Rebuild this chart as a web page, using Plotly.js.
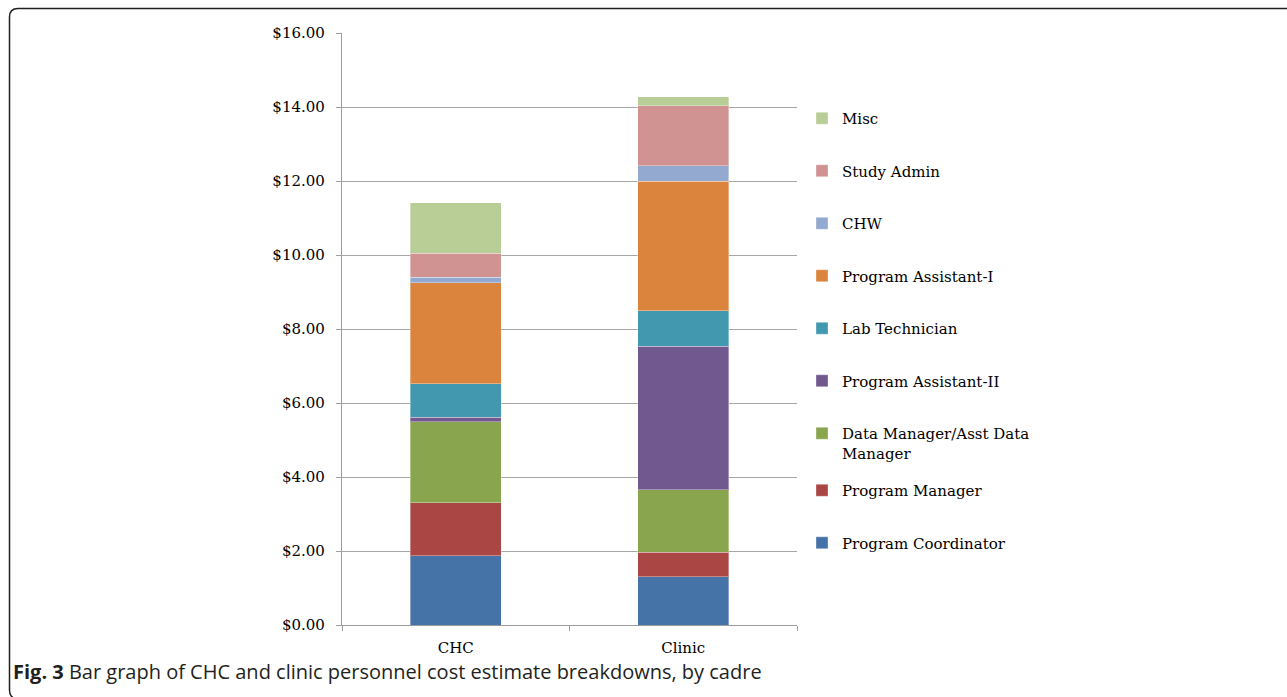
<!DOCTYPE html>
<html>
<head>
<meta charset="utf-8">
<script src="https://cdn.plot.ly/plotly-3.0.1.min.js"></script>
<style>html,body{margin:0;padding:0;background:#fff;}#chart{width:1287px;height:697px;}</style>
</head>
<body>
<div id="chart"></div>
<script>
const categories = ['CHC', 'Clinic'];
const seriesNames = ['Program Coordinator', 'Program Manager', 'Data Manager/Asst Data<br>Manager', 'Program Assistant-II', 'Lab Technician', 'Program Assistant-I', 'CHW', 'Study Admin', 'Misc'];
const programCoordinator = [1.87, 1.31];
const programManager = [1.44, 0.65];
const dataManager = [2.18, 1.69];
const programAssistantII = [0.12, 3.89];
const labTechnician = [0.91, 0.95];
const programAssistantI = [2.73, 3.51];
const chw = [0.15, 0.41];
const studyAdmin = [0.65, 1.63];
const misc = [1.36, 0.24];
const seriesValues = [programCoordinator, programManager, dataManager, programAssistantII, labTechnician, programAssistantI, chw, studyAdmin, misc];
const seriesColors = ['#4572A7', '#AA4643', '#89A54E', '#71588F', '#4198AF', '#DB843D', '#93A9CF', '#D19392', '#B9CD96'];
const yTicks = [0, 2, 4, 6, 8, 10, 12, 14, 16];

const traces = seriesNames.map((name, i) => ({
  type: 'bar',
  name: name,
  x: categories,
  y: seriesValues[i],
  marker: {color: seriesColors[i], line: {color: 'rgba(255,255,255,0.35)', width: 1}},
  legendgroup: 'g' + i,
  legendrank: seriesNames.length - i,
  legend: i < 2 ? 'legend2' : 'legend',
  hoverinfo: 'x+y+name'
}));

// layout helpers (pixel -> paper)
const L = 342, R = 797, T = 33, B = 625;
const X = px => (px - L) / (R - L);
const Y = py => (B - py) / (B - T);
const borderPath = `M ${X(9.5)},${Y(690)} L ${X(9.5)},${Y(17)} Q ${X(9.5)},${Y(8.5)} ${X(18)},${Y(8.5)} L ${X(1300)},${Y(8.5)}`
  + ` M ${X(9.5)},${Y(690)} Q ${X(9.5)},${Y(698)} ${X(17)},${Y(699)}`;

const serif = 'DejaVu Serif, Liberation Serif, serif';
const legendCommon = {
  font: {family: serif, size: 15, color: '#000'},
  traceorder: 'grouped',
  tracegroupgap: 30,
  xanchor: 'left', yanchor: 'top',
  bgcolor: 'rgba(0,0,0,0)',
  borderwidth: 0,
  valign: 'top'
};

const layout = {
  width: 1287, height: 697,
  margin: {l: L, r: 1287 - R, t: T, b: 697 - B},
  paper_bgcolor: '#fff', plot_bgcolor: '#fff',
  barmode: 'stack',
  bargap: 0.6,
  showlegend: true,
  title: {
    text: '<b>Fig. 3</b> Bar graph of CHC and clinic personnel cost estimate breakdowns, by cadre',
    font: {family: 'Open Sans, Noto Sans, sans-serif', size: 20, color: '#231f20'},
    xref: 'container', x: 13 / 1287, xanchor: 'left',
    yref: 'container', y: (697 - 672) / 697, yanchor: 'middle',
    pad: {t: 0, b: 0, l: 0, r: 0}
  },
  xaxis: {
    type: 'category',
    range: [-0.5, 1.5],
    showline: true, linecolor: '#9d9d9d', linewidth: 1.3,
    ticks: 'outside', ticklen: 5, tickcolor: '#9d9d9d', tickwidth: 1.3,
    tickson: 'boundaries',
    showgrid: false,
    tickfont: {family: serif, size: 15, color: '#000'},
    ticklabelstandoff: 9,
    fixedrange: true
  },
  yaxis: {
    range: [0, 16],
    tickvals: yTicks,
    tickformat: '$.2f',
    showline: true, linecolor: '#9d9d9d', linewidth: 1.3,
    ticks: 'outside', ticklen: 5, tickcolor: '#9d9d9d', tickwidth: 1.3,
    showgrid: true, gridcolor: '#a6a6a6', gridwidth: 1.3,
    zeroline: false,
    tickfont: {family: serif, size: 15, color: '#000'},
    ticklabelstandoff: 8,
    fixedrange: true
  },
  legend: Object.assign({}, legendCommon, {x: X(802), y: Y(102)}),
  legend2: Object.assign({}, legendCommon, {x: X(802), y: Y(474)}),
  shapes: [{
    type: 'path', xref: 'paper', yref: 'paper', path: borderPath,
    line: {color: '#231f20', width: 1.5}, layer: 'above'
  }]
};

Plotly.newPlot('chart', traces, layout, {displayModeBar: false});
</script>
</body>
</html>
